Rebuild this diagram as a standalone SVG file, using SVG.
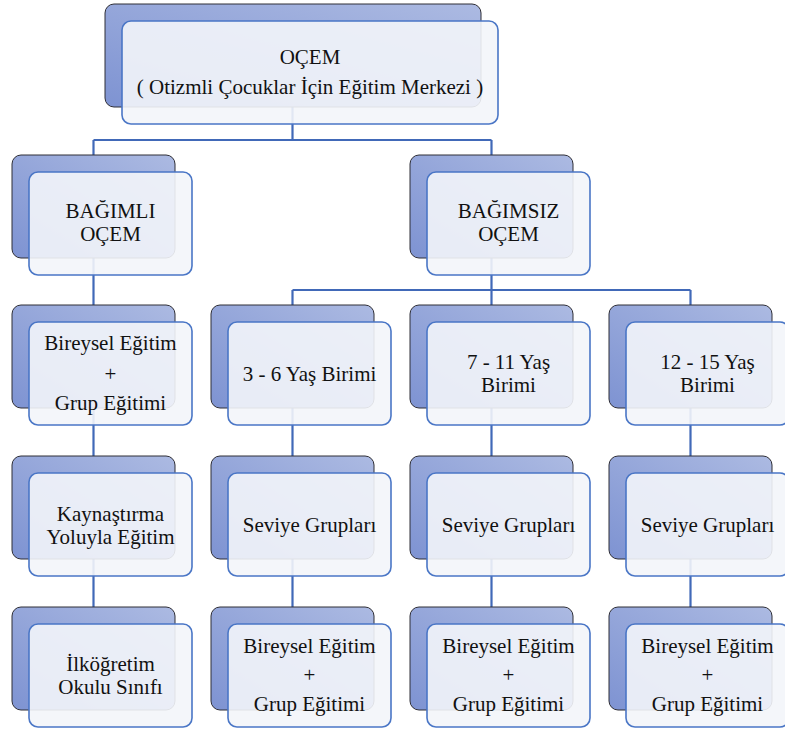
<svg xmlns="http://www.w3.org/2000/svg" width="785" height="733" viewBox="0 0 785 733">
<defs>
<linearGradient id="bg" x1="1" y1="0" x2="0" y2="1">
<stop offset="0" stop-color="#ACBAE2"/>
<stop offset="1" stop-color="#7E93D2"/>
</linearGradient>
<style>
.back{fill:url(#bg);stroke:#2E2E36;stroke-width:1}
.front{fill:#F3F5FA;fill-opacity:0.9;stroke:#4A76C6;stroke-width:1.6}
.conn{fill:none;stroke:#4169B8;stroke-width:2.2}
text{font-family:"Liberation Serif","Times New Roman",serif;font-size:21px;fill:#111;text-anchor:middle}
</style>
</defs>
<rect width="785" height="733" fill="#fff"/>
<g id="connectors">
<path class="conn" d="M292.5 107V140M93.5 140H491.5M93.5 140V607M491.5 140V155M491.5 258V290M292.5 290H690.5M292.5 290V607M491.5 290V607M690.5 290V607"/>
</g>
<g id="n-ocem">
<rect class="back" x="105" y="4" width="376" height="103" rx="9"/>
<rect class="front" x="122" y="21" width="376" height="103" rx="9"/>
<text x="310" y="64">OÇEM</text>
<text x="310" y="94">( Otizmli Çocuklar İçin Eğitim Merkezi )</text>
</g>
<g id="n-bagimli">
<rect class="back" x="12" y="155" width="163" height="103" rx="9"/>
<rect class="front" x="29" y="172" width="163" height="103" rx="9"/>
<text x="110.5" y="218">BAĞIMLI</text>
<text x="110.5" y="241">OÇEM</text>
</g>
<g id="n-bagimsiz">
<rect class="back" x="410" y="155" width="163" height="103" rx="9"/>
<rect class="front" x="427" y="172" width="163" height="103" rx="9"/>
<text x="508.5" y="218">BAĞIMSIZ</text>
<text x="508.5" y="241">OÇEM</text>
</g>
<g id="n-bireysel1">
<rect class="back" x="12" y="305" width="163" height="103" rx="9"/>
<rect class="front" x="29" y="322" width="163" height="103" rx="9"/>
<text x="110.5" y="350">Bireysel Eğitim</text>
<text x="110.5" y="381">+</text>
<text x="110.5" y="410">Grup Eğitimi</text>
</g>
<g id="n-yas36">
<rect class="back" x="211" y="305" width="163" height="103" rx="9"/>
<rect class="front" x="228" y="322" width="163" height="103" rx="9"/>
<text x="309.5" y="381">3 - 6 Yaş Birimi</text>
</g>
<g id="n-yas711">
<rect class="back" x="410" y="305" width="163" height="103" rx="9"/>
<rect class="front" x="427" y="322" width="163" height="103" rx="9"/>
<text x="508.5" y="369">7 - 11 Yaş</text>
<text x="508.5" y="392">Birimi</text>
</g>
<g id="n-yas1215">
<rect class="back" x="609" y="305" width="163" height="103" rx="9"/>
<rect class="front" x="626" y="322" width="163" height="103" rx="9"/>
<text x="707.5" y="369">12 - 15 Yaş</text>
<text x="707.5" y="392">Birimi</text>
</g>
<g id="n-kaynastirma">
<rect class="back" x="12" y="456" width="163" height="103" rx="9"/>
<rect class="front" x="29" y="473" width="163" height="103" rx="9"/>
<text x="110.5" y="521">Kaynaştırma</text>
<text x="110.5" y="544">Yoluyla Eğitim</text>
</g>
<g id="n-seviye1">
<rect class="back" x="211" y="456" width="163" height="103" rx="9"/>
<rect class="front" x="228" y="473" width="163" height="103" rx="9"/>
<text x="309.5" y="532">Seviye Grupları</text>
</g>
<g id="n-seviye2">
<rect class="back" x="410" y="456" width="163" height="103" rx="9"/>
<rect class="front" x="427" y="473" width="163" height="103" rx="9"/>
<text x="508.5" y="532">Seviye Grupları</text>
</g>
<g id="n-seviye3">
<rect class="back" x="609" y="456" width="163" height="103" rx="9"/>
<rect class="front" x="626" y="473" width="163" height="103" rx="9"/>
<text x="707.5" y="532">Seviye Grupları</text>
</g>
<g id="n-ilkogretim">
<rect class="back" x="12" y="607" width="163" height="103" rx="9"/>
<rect class="front" x="29" y="624" width="163" height="103" rx="9"/>
<text x="110.5" y="671">İlköğretim</text>
<text x="110.5" y="694">Okulu Sınıfı</text>
</g>
<g id="n-bireysel2">
<rect class="back" x="211" y="607" width="163" height="103" rx="9"/>
<rect class="front" x="228" y="624" width="163" height="103" rx="9"/>
<text x="309.5" y="653">Bireysel Eğitim</text>
<text x="309.5" y="682">+</text>
<text x="309.5" y="711">Grup Eğitimi</text>
</g>
<g id="n-bireysel3">
<rect class="back" x="410" y="607" width="163" height="103" rx="9"/>
<rect class="front" x="427" y="624" width="163" height="103" rx="9"/>
<text x="508.5" y="653">Bireysel Eğitim</text>
<text x="508.5" y="682">+</text>
<text x="508.5" y="711">Grup Eğitimi</text>
</g>
<g id="n-bireysel4">
<rect class="back" x="609" y="607" width="163" height="103" rx="9"/>
<rect class="front" x="626" y="624" width="163" height="103" rx="9"/>
<text x="707.5" y="653">Bireysel Eğitim</text>
<text x="707.5" y="682">+</text>
<text x="707.5" y="711">Grup Eğitimi</text>
</g>
</svg>
